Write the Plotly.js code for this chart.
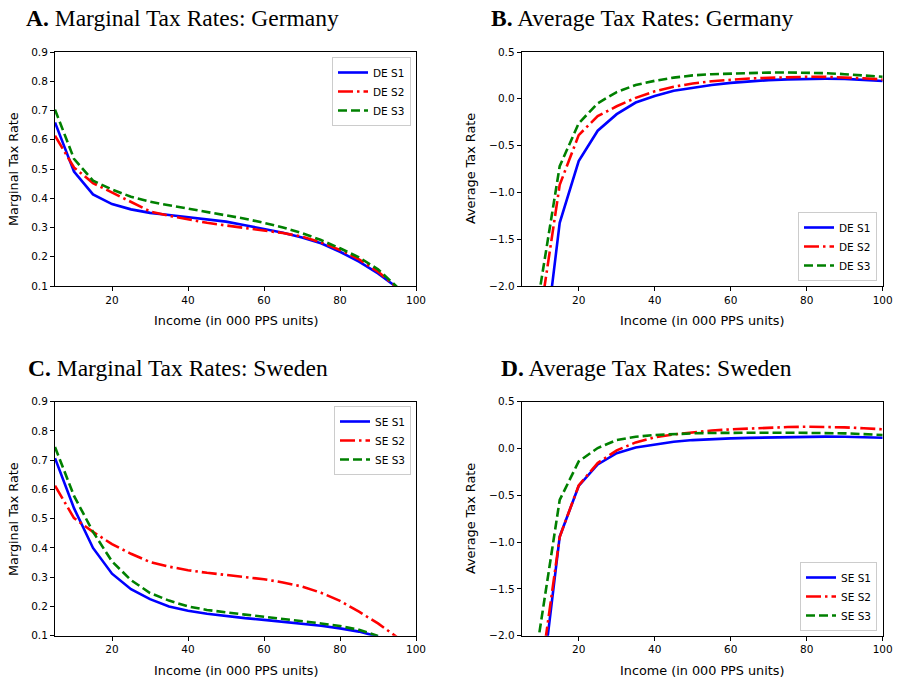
<!DOCTYPE html>
<html>
<head>
<meta charset="utf-8">
<script src="https://cdn.plot.ly/plotly-3.0.1.min.js"></script>
<style>html,body{margin:0;padding:0;background:#fff;}#chart{width:897px;height:680px;}</style>
</head>
<body>
<div id="chart"></div>
<script>
// Income grid (000 PPS units)
const income = [5,10,15,20,25,30,35,40,45,50,55,60,65,70,75,80,85,90,95,100];

// Panel A: marginal tax rates, Germany
const deMtrS1 = [0.659,0.491,0.413,0.380,0.362,0.350,0.343,0.336,0.328,0.320,0.308,0.296,0.282,0.266,0.246,0.217,0.183,0.143,0.095,null];
const deMtrS2 = [0.614,0.505,0.452,0.420,0.388,0.355,0.340,0.327,0.316,0.307,0.299,0.290,0.281,0.269,0.249,0.223,0.191,0.149,0.095,null];
const deMtrS3 = [0.703,0.535,0.460,0.430,0.405,0.388,0.376,0.365,0.354,0.342,0.330,0.316,0.300,0.281,0.257,0.229,0.198,0.157,0.097,null];

// Panel B: average tax rates, Germany
const deAtrS1 = [-6.0,-3.00,-1.325,-0.665,-0.341,-0.164,-0.04,0.030,0.085,0.120,0.148,0.170,0.188,0.200,0.208,0.213,0.214,0.213,0.205,0.190];
const deAtrS2 = [-4.5,-2.28,-0.920,-0.388,-0.185,-0.080,0.010,0.080,0.128,0.164,0.188,0.206,0.217,0.224,0.231,0.235,0.234,0.228,0.219,0.206];
const deAtrS3 = [-3.5,-1.98,-0.720,-0.262,-0.048,0.072,0.148,0.192,0.226,0.250,0.263,0.270,0.276,0.280,0.281,0.280,0.274,0.263,0.250,0.235];

// Panel C: marginal tax rates, Sweden
const seMtrS1 = [0.707,0.536,0.400,0.312,0.259,0.225,0.200,0.185,0.175,0.167,0.160,0.154,0.148,0.142,0.134,0.125,0.114,0.097,null,null];
const seMtrS2 = [0.613,0.502,0.455,0.413,0.380,0.352,0.336,0.324,0.315,0.307,0.300,0.293,0.282,0.268,0.247,0.219,0.182,0.142,0.095,null];
const seMtrS3 = [0.745,0.578,0.455,0.354,0.290,0.246,0.220,0.200,0.188,0.179,0.172,0.165,0.158,0.151,0.142,0.133,0.120,0.099,null,null];

// Panel D: average tax rates, Sweden
const seAtrS1 = [-5.0,-2.63,-0.942,-0.400,-0.170,-0.050,0.010,0.044,0.072,0.090,0.101,0.108,0.114,0.118,0.123,0.126,0.127,0.126,0.121,0.115];
const seAtrS2 = [-4.5,-2.41,-0.945,-0.395,-0.155,-0.020,0.065,0.120,0.150,0.172,0.192,0.205,0.215,0.222,0.229,0.233,0.232,0.226,0.216,0.205];
const seAtrS3 = [-3.2,-1.87,-0.550,-0.138,0.005,0.090,0.125,0.144,0.155,0.162,0.166,0.169,0.169,0.169,0.169,0.169,0.166,0.162,0.154,0.144];

const deNames = ['DE S1','DE S2','DE S3'];
const seNames = ['SE S1','SE S2','SE S3'];
const panelTitles = ['<b>A.</b> Marginal Tax Rates: Germany','<b>B.</b> Average Tax Rates: Germany','<b>C.</b> Marginal Tax Rates: Sweden','<b>D.</b> Average Tax Rates: Sweden'];
const xTitle = 'Income (in 000 PPS units)';
const yTitleM = 'Marginal Tax Rate';
const yTitleA = 'Average Tax Rate';

const colors = ['#0000ff','#ff0000','#008000'];
const dashes = ['solid','15px,4px,2.5px,4px','9px,4px'];

function mk(y, name, i, xa, ya, leg) {
  return {x: income, y: y, name: name, type: 'scatter', mode: 'lines',
    line: {color: colors[i], width: 2.6, dash: dashes[i]},
    xaxis: xa, yaxis: ya, legend: leg, connectgaps: false, cliponaxis: true};
}

const data = [
  mk(deMtrS1, deNames[0], 0, 'x', 'y', 'legend'),
  mk(deMtrS2, deNames[1], 1, 'x', 'y', 'legend'),
  mk(deMtrS3, deNames[2], 2, 'x', 'y', 'legend'),
  mk(deAtrS1, deNames[0], 0, 'x2', 'y2', 'legend2'),
  mk(deAtrS2, deNames[1], 1, 'x2', 'y2', 'legend2'),
  mk(deAtrS3, deNames[2], 2, 'x2', 'y2', 'legend2'),
  mk(seMtrS1, seNames[0], 0, 'x3', 'y3', 'legend3'),
  mk(seMtrS2, seNames[1], 1, 'x3', 'y3', 'legend3'),
  mk(seMtrS3, seNames[2], 2, 'x3', 'y3', 'legend3'),
  mk(seAtrS1, seNames[0], 0, 'x4', 'y4', 'legend4'),
  mk(seAtrS2, seNames[1], 1, 'x4', 'y4', 'legend4'),
  mk(seAtrS3, seNames[2], 2, 'x4', 'y4', 'legend4')
];

const W = 897, H = 680;
const tickFont = {family: 'DejaVu Sans', size: 10.5, color: '#000'};
function xax(dom, anchor) {
  return {domain: dom, anchor: anchor, range: [5, 100], tickvals: [20,40,60,80,100],
    showline: true, mirror: true, linecolor: '#000', linewidth: 1, ticks: 'outside', ticklen: 4,
    tickcolor: '#000', showgrid: false, zeroline: false, tickfont: tickFont, fixedrange: true};
}
function yax(dom, anchor, range, dtick) {
  return {domain: dom, anchor: anchor, range: range, dtick: dtick, tick0: range[0], tickformat: '.1f',
    showline: true, mirror: true, linecolor: '#000', linewidth: 1, ticks: 'outside', ticklen: 4,
    tickcolor: '#000', showgrid: false, zeroline: false, tickfont: tickFont, fixedrange: true};
}
const colL = [55/W, 416/W], colR = [521.7/W, 882.7/W];
const rowT = [(H-286)/H, (H-52)/H], rowB = [(H-635.7)/H, (H-401.7)/H];

const legBase = {bgcolor: 'rgba(255,255,255,0.85)', bordercolor: '#cccccc', borderwidth: 1,
  font: {family: 'DejaVu Sans', size: 10.5, color: '#000'}, xref: 'paper', yref: 'paper',
  tracegroupgap: 0, itemwidth: 30};

const titleFont = {family: 'Liberation Serif', size: 23.5, color: '#000'};
const axFont = {family: 'DejaVu Sans', size: 12.8, color: '#000'};
function ann(text, xpx, ypx, font, angle) {
  return {text: text, x: xpx / W, y: (H - ypx) / H, xref: 'paper', yref: 'paper',
    xanchor: 'center', yanchor: 'middle', showarrow: false, font: font, textangle: angle || 0};
}

const layout = {
  width: W, height: H, margin: {l: 0, r: 0, t: 0, b: 0},
  paper_bgcolor: '#fff', plot_bgcolor: '#fff', showlegend: true,
  xaxis: xax(colL, 'y'), yaxis: yax(rowT, 'x', [0.1, 0.9], 0.1),
  xaxis2: xax(colR, 'y2'), yaxis2: yax(rowT, 'x2', [-2.0, 0.5], 0.5),
  xaxis3: xax(colL, 'y3'), yaxis3: yax(rowB, 'x3', [0.1, 0.9], 0.1),
  xaxis4: xax(colR, 'y4'), yaxis4: yax(rowB, 'x4', [-2.0, 0.5], 0.5),
  legend: Object.assign({}, legBase, {x: 411/W, y: (H-57)/H, xanchor: 'right', yanchor: 'top'}),
  legend2: Object.assign({}, legBase, {x: 877/W, y: (H-281)/H, xanchor: 'right', yanchor: 'bottom'}),
  legend3: Object.assign({}, legBase, {x: 411/W, y: (H-406)/H, xanchor: 'right', yanchor: 'top'}),
  legend4: Object.assign({}, legBase, {x: 877/W, y: (H-631)/H, xanchor: 'right', yanchor: 'bottom'}),
  annotations: [
    ann(panelTitles[0], 182, 18, titleFont),
    ann(panelTitles[1], 642, 18, titleFont),
    ann(panelTitles[2], 178, 368, titleFont),
    ann(panelTitles[3], 646, 368, titleFont),
    ann(xTitle, 236, 320, axFont),
    ann(xTitle, 702, 320, axFont),
    ann(xTitle, 236, 670, axFont),
    ann(xTitle, 702, 670, axFont),
    ann(yTitleM, 13, 169, axFont, -90),
    ann(yTitleA, 470, 169, axFont, -90),
    ann(yTitleM, 13, 519, axFont, -90),
    ann(yTitleA, 470, 519, axFont, -90)
  ]
};

Plotly.newPlot('chart', data, layout, {displayModeBar: false, staticPlot: true});
</script>
</body>
</html>
